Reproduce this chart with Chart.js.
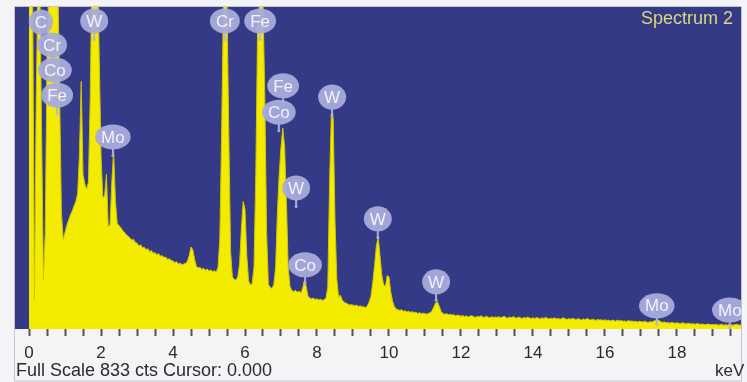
<!DOCTYPE html>
<html>
<head>
<meta charset="utf-8">
<script src="https://cdn.jsdelivr.net/npm/chart.js@4.4.1/dist/chart.umd.min.js"></script>
<style>
  html, body { margin: 0; padding: 0; background: #f4f4f6; }
  #wrap { position: relative; width: 747px; height: 382px; overflow: hidden; }
  .txt { position: absolute; font-family: "Liberation Sans", Arial, sans-serif; color: #2b2b2b; white-space: nowrap; }
</style>
</head>
<body>
<div id="wrap">
  <canvas id="spectrum" width="747" height="382"></canvas>
  <div class="txt" style="left:16px; top:360px; font-size:18px;">Full Scale 833 cts Cursor: 0.000</div>
  <div class="txt" style="left:715px; top:361px; font-size:17px;">keV</div>
  <div class="txt" style="left:641px; top:8px; font-size:18px; color:#dcd87a;">Spectrum 2</div>
</div>
<script>
// channel width of the spectrum (keV), first channel at 0 keV
const channelStep = 0.05;

// counts per channel, one row per keV (0.00 .. 19.80)
const counts = [
  900, 900, 880, 75, 600, 900, 900, 500, 127, 250, 700, 900, 950, 1000, 1000, 1000, 900, 600, 300, 232,
  250, 268, 282, 295, 305, 318, 330, 350, 450, 640, 400, 375, 362, 380, 600, 950, 1000, 1000, 950, 700,
  450, 340, 345, 400, 265, 270, 380, 460, 330, 272, 268, 262, 255, 250, 244, 240, 236, 230, 232, 224,
  222, 215, 218, 210, 212, 205, 208, 200, 203, 196, 198, 192, 195, 188, 190, 185, 186, 180, 182, 177,
  176, 172, 174, 168, 171, 166, 168, 170, 175, 190, 212, 205, 180, 162, 158, 160, 154, 157, 152, 155,
  150, 153, 148, 151, 147, 160, 230, 500, 840, 840, 840, 500, 200, 135, 128, 127, 135, 170, 260, 330,
  310, 190, 125, 114, 118, 160, 400, 780, 840, 840, 840, 600, 250, 115, 108, 105, 115, 160, 300, 400,
  470, 520, 470, 330, 160, 110, 100, 97, 100, 95, 98, 93, 105, 125, 110, 85, 80, 78, 80, 76,
  78, 75, 77, 74, 76, 80, 110, 380, 559, 545, 280, 130, 82, 88, 75, 70, 67, 65, 62, 63,
  62, 60, 62, 58, 60, 57, 58, 55, 60, 70, 85, 120, 165, 215, 238, 190, 140, 115, 110, 138,
  135, 95, 72, 58, 52, 50, 48, 50, 46, 47, 44, 46, 43, 45, 42, 44, 40, 42, 40, 41,
  40, 38, 41, 42, 48, 58, 68, 70, 58, 45, 40, 38, 40, 37, 38, 36, 37, 34, 36, 35,
  33, 35, 32, 34, 31, 33, 35, 32, 30, 33, 31, 34, 32, 30, 33, 31, 29, 32, 30, 31,
  30, 32, 29, 31, 33, 30, 28, 31, 29, 32, 30, 28, 31, 29, 27, 30, 28, 31, 29, 27,
  29, 27, 30, 28, 26, 29, 27, 30, 28, 26, 28, 27, 29, 26, 28, 25, 27, 29, 26, 25,
  27, 25, 28, 26, 24, 27, 25, 23, 26, 24, 27, 25, 23, 25, 24, 22, 25, 23, 24, 22,
  24, 22, 23, 21, 23, 22, 20, 23, 21, 22, 20, 21, 19, 22, 20, 21, 19, 20, 18, 20,
  19, 18, 20, 18, 17, 19, 18, 20, 22, 24, 22, 19, 17, 18, 16, 17, 15, 17, 16, 15,
  16, 15, 14, 16, 15, 13, 15, 14, 13, 14, 12, 14, 13, 12, 13, 12, 11, 13, 12, 11,
  12, 11, 12, 10, 11, 12, 10, 11, 10, 12, 11, 10, 11, 12, 11, 10, 11
];

// element markers: label, energy of the marker, height of the marker centre (cts)
const markerNames = ["C", "Cr", "Co", "Fe", "W", "Mo", "Cr", "Fe", "Fe", "Co", "W", "W", "Co", "W", "W", "Mo", "Mo"];
const markerKeV   = [0.33, 0.64, 0.72, 0.78, 1.81, 2.33, 5.44, 6.42, 7.06, 6.94, 8.42, 7.42, 7.67, 9.69, 11.31, 17.44, 19.47];
const markerCts   = [794, 735, 670, 605, 797, 497, 797, 797, 629, 561, 600, 365, 166, 285, 122, 60, 49];

const tickLabels = ["0", "2", "4", "6", "8", "10", "12", "14", "16", "18"];

const fullScale = 833;

const points = counts.map(function (c, i) {
  return { x: +(i * channelStep).toFixed(2), y: c };
});

const plotBackground = {
  id: "plotBackground",
  beforeDraw: function (chart) {
    const ctx = chart.ctx, a = chart.chartArea;
    ctx.save();
    ctx.fillStyle = "#343a86";
    ctx.fillRect(a.left, a.top, a.right - a.left, a.bottom - a.top);
    ctx.restore();
  },
  afterDraw: function (chart) {
    const ctx = chart.ctx, a = chart.chartArea;
    ctx.save();
    ctx.strokeStyle = "#c2c4cf";
    ctx.lineWidth = 1;
    ctx.strokeRect(a.left - 0.5, a.top - 0.5, a.right - a.left + 1, chart.height - a.top - 0.5);
    ctx.restore();
  }
};

const elementMarkers = {
  id: "elementMarkers",
  afterDatasetsDraw: function (chart) {
    const ctx = chart.ctx, a = chart.chartArea;
    const xs = chart.scales.x, ys = chart.scales.y;
    ctx.save();
    ctx.beginPath();
    ctx.rect(a.left, a.top, a.right - a.left, a.bottom - a.top);
    ctx.clip();
    ctx.font = '17px "Liberation Sans", Arial, sans-serif';
    ctx.textAlign = "center";
    ctx.textBaseline = "middle";
    markerNames.forEach(function (name, i) {
      const cx = xs.getPixelForValue(markerKeV[i]);
      const cy = ys.getPixelForValue(markerCts[i]);
      const w = ctx.measureText(name).width + 12;
      const h = 25;
      // stem
      ctx.fillStyle = "rgba(176,180,228,0.95)";
      ctx.fillRect(cx - 1, cy + h / 2 - 1, 2, 6);
      ctx.beginPath();
      ctx.arc(cx, cy + h / 2 + 6, 1.5, 0, Math.PI * 2);
      ctx.fill();
      // bubble
      ctx.beginPath();
      ctx.ellipse(cx, cy, w / 2, h / 2, 0, 0, Math.PI * 2);
      ctx.fillStyle = "rgba(168,172,218,0.95)";
      ctx.fill();
      ctx.fillStyle = "#f2f2ff";
      ctx.fillText(name, cx, cy + 1);
    });
    ctx.restore();
  }
};

new Chart(document.getElementById("spectrum"), {
  type: "line",
  data: {
    datasets: [{
      data: points,
      fill: "origin",
      backgroundColor: "#f3eb00",
      borderColor: "#cfc600",
      borderWidth: 1,
      pointRadius: 0,
      tension: 0
    }]
  },
  options: {
    responsive: false,
    animation: false,
    events: [],
    layout: { padding: { left: 15, right: 6, top: 7, bottom: 0 } },
    plugins: {
      legend: { display: false },
      tooltip: { enabled: false }
    },
    scales: {
      x: {
        type: "linear",
        min: -0.39,
        max: 19.78,
        border: { display: false },
        grid: {
          drawOnChartArea: false,
          drawTicks: true,
          tickLength: 7,
          tickWidth: 2,
          tickColor: "#555555"
        },
        ticks: {
          stepSize: 0.5,
          maxTicksLimit: 100,
          autoSkip: false,
          includeBounds: false,
          maxRotation: 0,
          padding: 7,
          color: "#2b2b2b",
          font: { family: '"Liberation Sans", Arial, sans-serif', size: 17 },
          callback: function (value) {
            const s = String(Math.round(value * 100) / 100);
            return tickLabels.indexOf(s) >= 0 ? s : "";
          }
        },
        afterFit: function (scale) { scale.height = 53; }
      },
      y: {
        display: false,
        min: 0,
        max: fullScale
      }
    }
  },
  plugins: [plotBackground, elementMarkers]
});
</script>
</body>
</html>
